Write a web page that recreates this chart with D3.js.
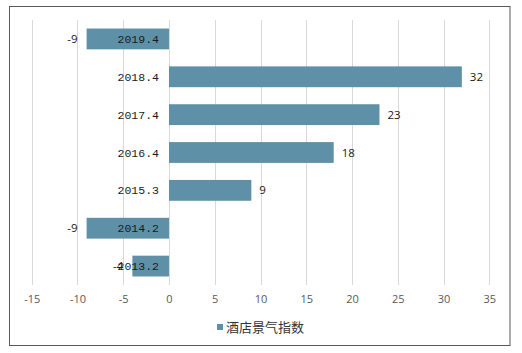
<!DOCTYPE html>
<html><head><meta charset="utf-8">
<script src="https://cdn.jsdelivr.net/npm/d3@7"></script>
<style>body{margin:0;background:#fff}</style>
</head><body>
<svg id="c" width="522" height="353"></svg>
<script>
const categories = ["2019.4","2018.4","2017.4","2016.4","2015.3","2014.2","2013.2"];
const values = [-9,32,23,18,9,-9,-4];
const xTicks = [-15,-10,-5,0,5,10,15,20,25,30,35];
const seriesName = "酒店景气指数";

const svg = d3.select("#c");
const color = "#5e91a7";
svg.append("rect").attr("x",9.5).attr("y",6.5).attr("width",500.5).attr("height",339)
  .attr("fill","#fff").attr("stroke","#595959").attr("stroke-width",1);

const x = d3.scaleLinear().domain([-15,35]).range([31.7,489.3]);
const y = d3.scaleBand().domain(categories).range([20,285]).paddingInner(0.45).paddingOuter(0.225);

const g = svg.append("g");
g.selectAll(".grid").data(xTicks).enter().append("line")
  .attr("x1",d=>Math.round(x(d))+0.5).attr("x2",d=>Math.round(x(d))+0.5)
  .attr("y1",20).attr("y2",285).attr("stroke","#d9d9d9").attr("stroke-width",1);

g.selectAll(".bar").data(values).enter().append("rect")
  .attr("x",d=>x(Math.min(0,d))).attr("width",d=>Math.abs(x(d)-x(0)))
  .attr("y",(d,i)=>y(categories[i])).attr("height",y.bandwidth())
  .attr("fill",color);

// axis tick labels
const xAxis = d3.axisBottom(x).tickValues(xTicks).tickSize(0).tickPadding(0).tickFormat(d=>String(d));
const ax = svg.append("g").attr("transform","translate(0,295)").call(xAxis);
ax.select(".domain").remove();
ax.selectAll("text").attr("font-family","'Open Sans','DejaVu Sans',sans-serif").attr("font-size",11).attr("fill","#595959");

// category labels
g.selectAll(".cat").data(categories).enter().append("text")
  .attr("x",x(0)-10).attr("y",d=>y(d)+y.bandwidth()/2).attr("dy","0.35em")
  .attr("text-anchor","end").attr("font-family","'Liberation Mono','DejaVu Sans Mono',monospace")
  .attr("font-size",11.5).attr("fill","#1a1a1a").text(d=>d);

// value labels
g.selectAll(".val").data(values).enter().append("text")
  .attr("x",d=>d<0? x(d)-9 : x(d)+8)
  .attr("y",(d,i)=>y(categories[i])+y.bandwidth()/2).attr("dy","0.35em")
  .attr("text-anchor",d=>d<0?"end":"start")
  .attr("font-family","'Open Sans','DejaVu Sans',sans-serif").attr("font-size",11.5).attr("fill","#1a1a1a")
  .text(d=>String(d));

// legend
const lg = svg.append("g").attr("transform","translate(217,327)");
lg.append("rect").attr("x",0).attr("y",-3).attr("width",6).attr("height",6).attr("fill",color);
lg.append("text").attr("x",9).attr("y",0).attr("dy","0.35em")
  .attr("font-family","'Noto Sans CJK SC',sans-serif").attr("font-size",13).attr("fill","#333").text(seriesName);
</script>
</body></html>
